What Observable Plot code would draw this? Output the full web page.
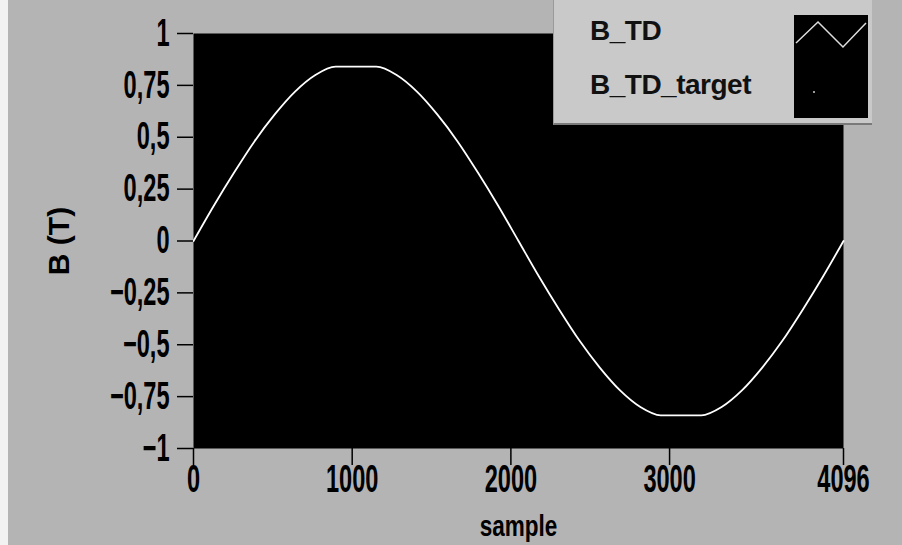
<!DOCTYPE html>
<html><head><meta charset="utf-8">
<script src="https://cdn.jsdelivr.net/npm/d3@7"></script>
<script src="https://cdn.jsdelivr.net/npm/@observablehq/plot@0.6"></script>
<style>
html,body{margin:0;padding:0;background:#b4b4b4;}
#wrap{position:relative;width:902px;height:545px;overflow:hidden;background:#b4b4b4;}
#wrap svg{position:absolute;left:0;top:0;}
#edge{position:absolute;left:0;top:0;width:8px;height:545px;background:#f2f2f2;}
#legend{position:absolute;left:553px;top:0;width:318px;height:123px;background:#c9c9c9;border-bottom:2px solid #7a7a7a;border-left:1px solid #9a9a9a;font-family:"Liberation Sans",Arial,sans-serif;font-weight:bold;font-size:28px;color:#111;}
#legend .item{position:absolute;left:36px;white-space:nowrap;letter-spacing:-0.5px;}
#legend .sw{position:absolute;left:240px;top:15px;width:74px;height:103px;background:#000;}
</style></head>
<body><div id="wrap"><div id="edge"></div></div>
<script>
// data
const samples = [0,128,256,384,512,640,768,896,1024,1152,1280,1408,1536,1664,1792,1920,2048,
                 2176,2304,2432,2560,2688,2816,2944,3072,3200,3328,3456,3584,3712,3840,3968,4096];
const bTD = [0,0.17,0.33,0.48,0.61,0.72,0.80,0.84,0.84,0.84,0.80,0.72,0.61,0.48,0.33,0.17,0,
             -0.17,-0.33,-0.48,-0.61,-0.72,-0.80,-0.84,-0.84,-0.84,-0.80,-0.72,-0.61,-0.48,-0.33,-0.17,0];
const xTicks = [0,1000,2000,3000,4096];
const yTicks = [-1,-0.75,-0.5,-0.25,0,0.25,0.5,0.75,1];
const seriesNames = ["B_TD","B_TD_target"];
const xLabel = "sample";
const yLabel = "B (T)";

const data = samples.map((s,i)=>({sample:s, B:bTD[i]}));
const fmtY = v => String(v).replace(".", ",").replace("-", "\u2212");

const chart = Plot.plot({
  width: 902, height: 545,
  marginLeft: 193, marginRight: 59, marginTop: 33, marginBottom: 97,
  style: {background: "transparent", fontFamily: "'Liberation Sans', Arial, sans-serif", color: "black", overflow: "visible"},
  x: {domain: [0, 4096]},
  y: {domain: [-1, 1]},
  marks: [
    Plot.frame({fill: "black"}),
    Plot.line(data, {x: "sample", y: "B", stroke: "white", strokeWidth: 1.8, curve: "monotone-x"}),
    Plot.axisY({ticks: yTicks, tickFormat: fmtY, tickSize: 16, tickPadding: 8, fontSize: 38, fontWeight: "bold", label: null, strokeWidth: 1.5}),
    Plot.axisY({ticks: [], label: yLabel, labelAnchor: "center", labelOffset: 146, labelArrow: "none", fontSize: 30, fontWeight: "bold"}),
    Plot.axisX({ticks: xTicks, tickFormat: d => String(d), tickSize: 17, tickPadding: 0, fontSize: 38, fontWeight: "bold", label: null, strokeWidth: 1.5}),
    Plot.axisX({ticks: [], label: xLabel, labelAnchor: "center", labelOffset: 87, labelArrow: "none", fontSize: 30, fontWeight: "bold"})
  ]
});
const wrap = document.getElementById("wrap");
wrap.appendChild(chart);

// condensed look of the tick labels
d3.select(chart).selectAll('g[aria-label="y-axis tick label"] text, g[aria-label="x-axis tick label"] text').each(function(){
  const len = this.getComputedTextLength();
  this.setAttribute("textLength", (len*0.62).toFixed(1));
  this.setAttribute("lengthAdjust", "spacingAndGlyphs");
});
d3.select(chart).selectAll('g[aria-label="x-axis label"] text').each(function(){
  const len = this.getComputedTextLength();
  this.setAttribute("textLength", (len*0.75).toFixed(1));
  this.setAttribute("lengthAdjust", "spacingAndGlyphs");
});

// legend
const lg = document.createElement("div");
lg.id = "legend";
lg.innerHTML = `<div class="item" style="top:15px">${seriesNames[0]}</div>
<div class="item" style="top:69px">${seriesNames[1]}</div>
<div class="sw"><svg width="74" height="103"><polyline points="2,28 24,7 49,32 72,8" fill="none" stroke="#ddd" stroke-width="1.5"/><circle cx="20" cy="77" r="1" fill="#ccc"/></svg></div>`;
wrap.appendChild(lg);
</script>
</body></html>
